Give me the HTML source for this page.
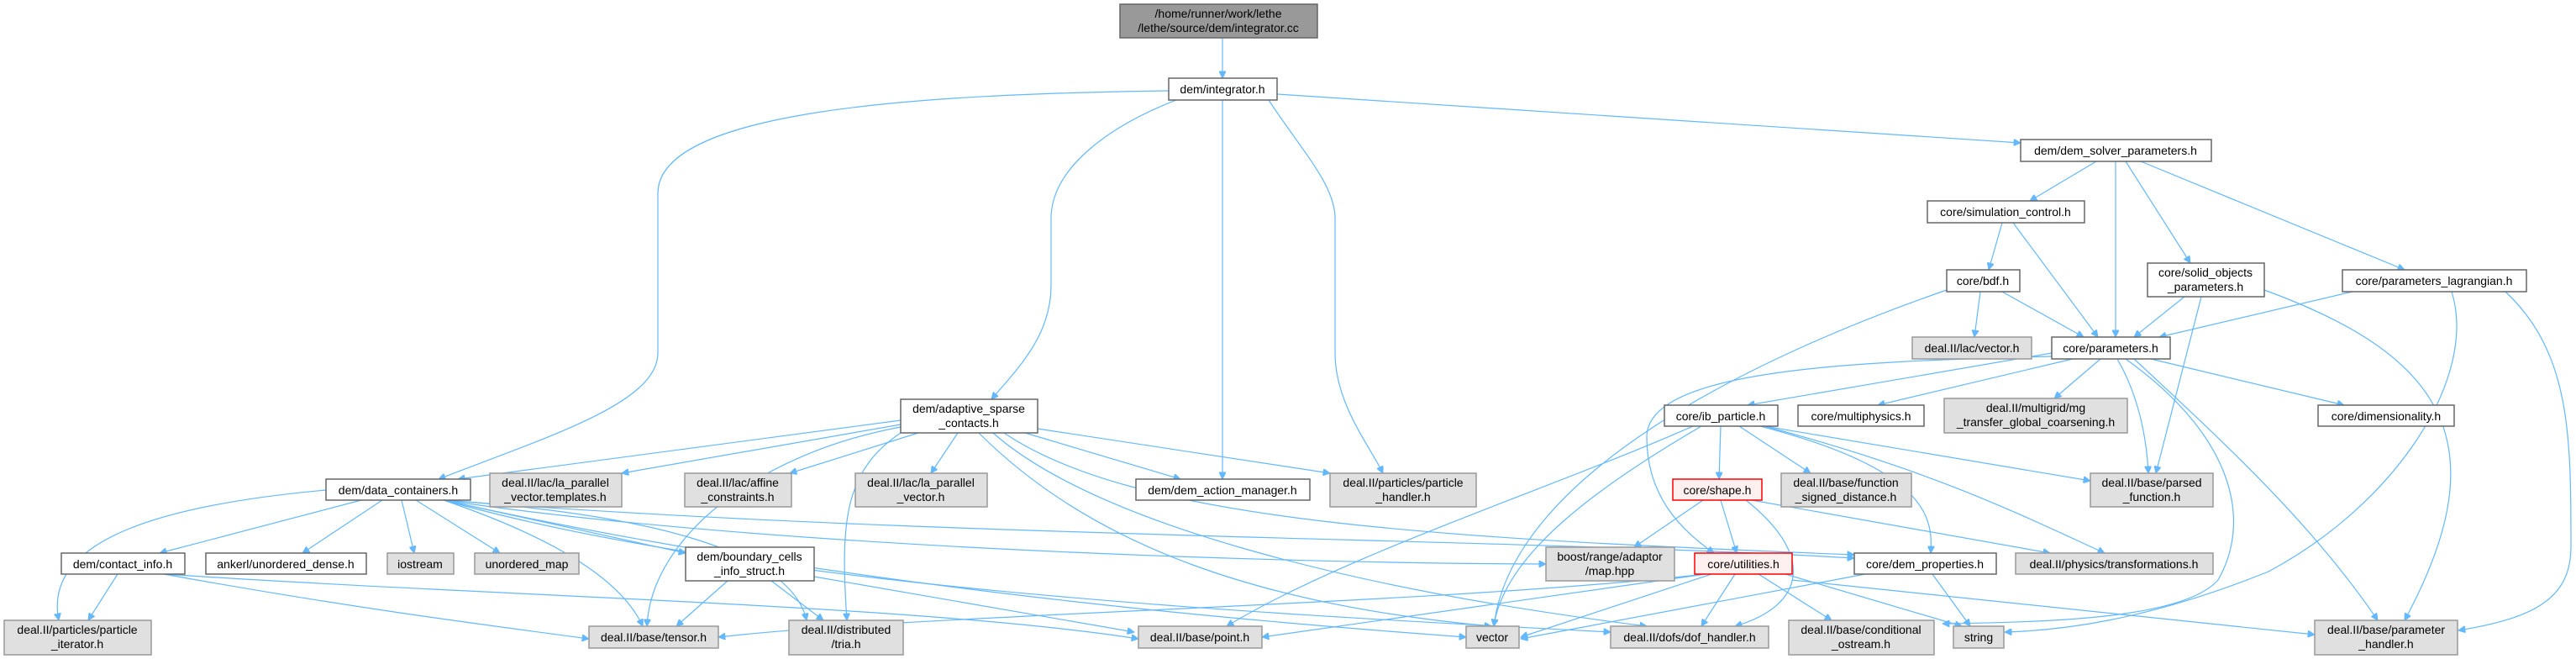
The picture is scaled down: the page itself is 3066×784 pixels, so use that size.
<!DOCTYPE html>
<html><head><meta charset="utf-8"><style>
html,body{margin:0;padding:0;background:#fff;}
svg{display:block;}
text{font-family:"Liberation Sans",sans-serif;font-size:14px;fill:#000;text-anchor:middle;}
.w{fill:#fff;stroke:#666;stroke-width:1.5}
.g{fill:#e0e0e0;stroke:#999;stroke-width:1.5}
.r{fill:#fff0f0;stroke:#f00;stroke-width:1.5}
.k{fill:#999;stroke:#666;stroke-width:1.5}
path{fill:none;stroke:#63b8ff;stroke-width:1.2;marker-end:url(#a)}
</style></head><body>
<svg width="3066" height="784" viewBox="0 0 3066 784" xmlns="http://www.w3.org/2000/svg">
<defs><marker id="a" viewBox="0 0 10 10" refX="10" refY="5" markerWidth="9" markerHeight="8" markerUnits="userSpaceOnUse" orient="auto"><path d="M0,0 L10,5 L0,10 z" style="fill:#63b8ff;stroke:#63b8ff;marker-end:none"/></marker></defs>

<!-- edges -->
<path d="M1455,45 L1455,93"/>
<path d="M1391,108 C1100,112 783,130 783,230 L783,420 C783,480 650,520 522,570"/>
<path d="M1400,119 C1320,150 1251,200 1251,260 L1251,340 C1251,400 1210,440 1180,475"/>
<path d="M1455,119 L1455,570"/>
<path d="M1510,119 C1550,180 1589,220 1589,260 L1589,420 C1589,480 1630,530 1646,563"/>
<path d="M1520,112 L2405,170"/>
<path d="M2495,192 L2416,239"/>
<path d="M2518,192 L2518,401"/>
<path d="M2530,192 L2607,313"/>
<path d="M2548,192 L2862,321"/>
<path d="M2383,265 L2367,321"/>
<path d="M2396,265 L2497,401"/>
<path d="M2357,347 L2350,401"/>
<path d="M2383,347 L2480,401"/>
<path d="M2317,345 C2100,420 1800,560 1778,745"/>
<path d="M2600,353 L2540,401"/>
<path d="M2620,353 L2566,563"/>
<path d="M2695,345 C2900,420 2980,520 2862,738"/>
<path d="M2800,347 L2570,401"/>
<path d="M2918,347 C2950,450 2850,600 2700,680 C2550,740 2450,750 2386,752"/>
<path d="M2982,347 C3060,420 3060,520 3060,650 C3060,710 3020,735 2926,750"/>
<path d="M2442,420 L2080,482"/>
<path d="M2467,427 L2235,482"/>
<path d="M2500,427 L2445,474"/>
<path d="M2520,427 C2545,470 2555,520 2557,563"/>
<path d="M2560,427 L2790,482"/>
<path d="M2540,427 C2640,520 2750,620 2830,738"/>
<path d="M2530,427 C2660,520 2680,620 2640,690 C2600,735 2450,740 2312,742"/>
<path d="M2442,424 C2200,430 1960,440 1960,520 C1960,590 2000,630 2040,658"/>
<path d="M2025,507 C1900,580 1790,660 1778,745"/>
<path d="M2015,507 C1850,580 1600,660 1460,745"/>
<path d="M2048,507 L2046,570"/>
<path d="M2070,507 L2155,563"/>
<path d="M2095,507 C2300,560 2300,620 2298,658"/>
<path d="M2100,507 L2488,572"/>
<path d="M2100,507 C2300,560 2400,610 2505,658"/>
<path d="M2027,595 L1945,651"/>
<path d="M2048,595 L2067,658"/>
<path d="M2078,595 C2160,660 2150,720 2065,745"/>
<path d="M2085,595 L2440,658"/>
<path d="M2037,683 L1810,758"/>
<path d="M2065,683 L2025,745"/>
<path d="M2093,683 L2180,738"/>
<path d="M2125,683 L2335,745"/>
<path d="M2133,690 L2755,755"/>
<path d="M2030,683 C1700,720 1100,730 855,758"/>
<path d="M2030,683 L1502,758"/>
<path d="M2220,683 L1810,760"/>
<path d="M2300,683 L2345,745"/>
<path d="M1072,500 L545,570"/>
<path d="M1072,505 L740,563"/>
<path d="M1093,515 L940,563"/>
<path d="M1140,515 L1108,563"/>
<path d="M1220,515 L1405,570"/>
<path d="M1235,510 L1583,563"/>
<path d="M1072,508 C900,540 775,640 770,745"/>
<path d="M1072,515 C1005,560 1000,620 1008,738"/>
<path d="M1165,515 C1300,650 1500,720 1775,745"/>
<path d="M1182,515 C1300,620 1600,700 1960,745"/>
<path d="M1195,515 C1350,620 1700,640 2207,660"/>
<path d="M388,583 C200,600 50,640 70,738"/>
<path d="M430,595 L190,658"/>
<path d="M455,595 L360,658"/>
<path d="M478,595 L493,658"/>
<path d="M495,595 L595,658"/>
<path d="M528,595 C660,640 740,690 765,745"/>
<path d="M528,595 L816,658"/>
<path d="M528,595 C750,610 940,650 960,738"/>
<path d="M528,595 C900,650 1500,670 1840,671"/>
<path d="M528,595 C1000,700 1500,740 1745,758"/>
<path d="M528,595 C1100,640 1800,640 2207,664"/>
<path d="M528,595 C900,700 1500,730 1917,752"/>
<path d="M140,683 L105,738"/>
<path d="M195,683 C400,720 550,740 701,760"/>
<path d="M195,683 C600,710 1100,720 1355,760"/>
<path d="M866,691 L805,745"/>
<path d="M918,691 L980,738"/>
<path d="M969,686 L1350,752"/>

<!-- nodes -->
<rect class="k" x="1333" y="5" width="235" height="40"/><text x="1450" y="21">/home/runner/work/lethe</text><text x="1450" y="38">/lethe/source/dem/integrator.cc</text>
<rect class="w" x="1391" y="93" width="129" height="26"/><text x="1455" y="111">dem/integrator.h</text>
<rect class="w" x="2405" y="166" width="227" height="26"/><text x="2518" y="184">dem/dem_solver_parameters.h</text>
<rect class="w" x="2294" y="239" width="187" height="26"/><text x="2387" y="257">core/simulation_control.h</text>
<rect class="w" x="2317" y="321" width="87" height="26"/><text x="2360" y="339">core/bdf.h</text>
<rect class="w" x="2556" y="313" width="139" height="40"/><text x="2625" y="329">core/solid_objects</text><text x="2625" y="346">_parameters.h</text>
<rect class="w" x="2788" y="321" width="219" height="26"/><text x="2897" y="339">core/parameters_lagrangian.h</text>
<rect class="g" x="2276" y="401" width="142" height="26"/><text x="2347" y="419">deal.II/lac/vector.h</text>
<rect class="w" x="2442" y="401" width="141" height="26"/><text x="2512" y="419">core/parameters.h</text>
<rect class="w" x="1981" y="482" width="135" height="25"/><text x="2048" y="500">core/ib_particle.h</text>
<rect class="w" x="2140" y="482" width="150" height="25"/><text x="2215" y="500">core/multiphysics.h</text>
<rect class="g" x="2314" y="474" width="218" height="41"/><text x="2423" y="490">deal.II/multigrid/mg</text><text x="2423" y="507">_transfer_global_coarsening.h</text>
<rect class="w" x="2759" y="482" width="162" height="25"/><text x="2840" y="500">core/dimensionality.h</text>
<rect class="w" x="1072" y="475" width="163" height="40"/><text x="1153" y="491">dem/adaptive_sparse</text><text x="1153" y="508">_contacts.h</text>
<rect class="w" x="388" y="570" width="172" height="25"/><text x="474" y="588">dem/data_containers.h</text>
<rect class="g" x="583" y="563" width="157" height="40"/><text x="661" y="579">deal.II/lac/la_parallel</text><text x="661" y="596">_vector.templates.h</text>
<rect class="g" x="815" y="563" width="127" height="40"/><text x="878" y="579">deal.II/lac/affine</text><text x="878" y="596">_constraints.h</text>
<rect class="g" x="1018" y="563" width="157" height="40"/><text x="1096" y="579">deal.II/lac/la_parallel</text><text x="1096" y="596">_vector.h</text>
<rect class="w" x="1352" y="570" width="207" height="25"/><text x="1455" y="588">dem/dem_action_manager.h</text>
<rect class="g" x="1583" y="563" width="174" height="40"/><text x="1670" y="579">deal.II/particles/particle</text><text x="1670" y="596">_handler.h</text>
<rect class="r" x="1991" y="570" width="106" height="25"/><text x="2044" y="588">core/shape.h</text>
<rect class="g" x="2120" y="563" width="155" height="40"/><text x="2197" y="579">deal.II/base/function</text><text x="2197" y="596">_signed_distance.h</text>
<rect class="g" x="2488" y="563" width="146" height="40"/><text x="2561" y="579">deal.II/base/parsed</text><text x="2561" y="596">_function.h</text>
<rect class="w" x="73" y="658" width="147" height="25"/><text x="146" y="676">dem/contact_info.h</text>
<rect class="w" x="245" y="658" width="191" height="25"/><text x="340" y="676">ankerl/unordered_dense.h</text>
<rect class="g" x="461" y="658" width="79" height="25"/><text x="500" y="676">iostream</text>
<rect class="g" x="565" y="658" width="124" height="25"/><text x="627" y="676">unordered_map</text>
<rect class="w" x="816" y="651" width="153" height="40"/><text x="892" y="667">dem/boundary_cells</text><text x="892" y="684">_info_struct.h</text>
<rect class="g" x="1840" y="651" width="153" height="40"/><text x="1916" y="667">boost/range/adaptor</text><text x="1916" y="684">/map.hpp</text>
<rect class="r" x="2017" y="658" width="116" height="25"/><text x="2075" y="676">core/utilities.h</text>
<rect class="w" x="2207" y="658" width="169" height="25"/><text x="2291" y="676">core/dem_properties.h</text>
<rect class="g" x="2399" y="658" width="235" height="25"/><text x="2516" y="676">deal.II/physics/transformations.h</text>
<rect class="g" x="5" y="738" width="175" height="41"/><text x="92" y="754">deal.II/particles/particle</text><text x="92" y="771">_iterator.h</text>
<rect class="g" x="701" y="745" width="154" height="26"/><text x="778" y="763">deal.II/base/tensor.h</text>
<rect class="g" x="939" y="738" width="136" height="41"/><text x="1007" y="754">deal.II/distributed</text><text x="1007" y="771">/tria.h</text>
<rect class="g" x="1355" y="745" width="147" height="26"/><text x="1428" y="763">deal.II/base/point.h</text>
<rect class="g" x="1745" y="745" width="63" height="26"/><text x="1776" y="763">vector</text>
<rect class="g" x="1917" y="745" width="188" height="26"/><text x="2011" y="763">deal.II/dofs/dof_handler.h</text>
<rect class="g" x="2129" y="738" width="173" height="41"/><text x="2215" y="754">deal.II/base/conditional</text><text x="2215" y="771">_ostream.h</text>
<rect class="g" x="2325" y="745" width="60" height="26"/><text x="2355" y="763">string</text>
<rect class="g" x="2755" y="738" width="170" height="41"/><text x="2840" y="754">deal.II/base/parameter</text><text x="2840" y="771">_handler.h</text>
</svg>
</body></html>
